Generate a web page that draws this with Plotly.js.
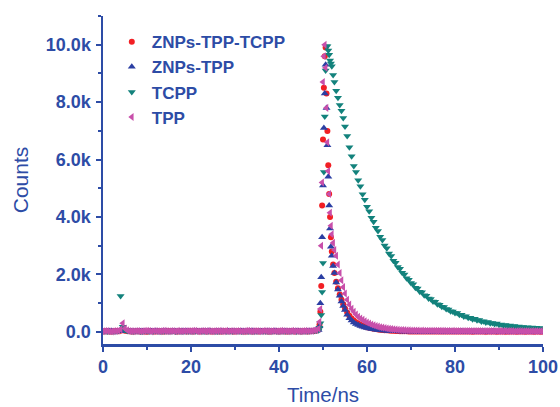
<!DOCTYPE html>
<html>
<head>
<meta charset="utf-8">
<script src="https://cdn.plot.ly/plotly-3.0.1.min.js"></script>
<style>html,body{margin:0;padding:0;background:#fff;}#chart{width:560px;height:407px;}</style>
</head>
<body>
<div id="chart"></div>
<script>
// Time channels (ns)
const timeNs = [
  0,0.5,1,1.5,2,2.5,3,3.5,4,4.5, 5,5.5,6,6.5,7,7.5,8,8.5,9,9.5,
  10,10.5,11,11.5,12,12.5,13,13.5,14,14.5, 15,15.5,16,16.5,17,17.5,18,18.5,19,19.5,
  20,20.5,21,21.5,22,22.5,23,23.5,24,24.5, 25,25.5,26,26.5,27,27.5,28,28.5,29,29.5,
  30,30.5,31,31.5,32,32.5,33,33.5,34,34.5, 35,35.5,36,36.5,37,37.5,38,38.5,39,39.5,
  40,40.5,41,41.5,42,42.5,43,43.5,44,44.5, 45,45.5,46,46.5,47,47.5,48,
  48.5,49,49.2,49.4,49.6,49.8,50,50.2,50.4,50.6,50.8,51,51.2,51.4,51.6,51.8,52,52.3,52.6,53,53.4,53.8,54.2,54.6,55,
  55.5,56,56.5,57,57.5,58,58.5,59,59.5,60, 60.5,61,61.5,62,62.5,63,63.5,64,64.5,65,
  65.5,66,66.5,67,67.5,68,68.5,69,69.5,70, 70.5,71,71.5,72,72.5,73,73.5,74,74.5,75,
  75.5,76,76.5,77,77.5,78,78.5,79,79.5,80, 80.5,81,81.5,82,82.5,83,83.5,84,84.5,85,
  85.5,86,86.5,87,87.5,88,88.5,89,89.5,90, 90.5,91,91.5,92,92.5,93,93.5,94,94.5,95,
  95.5,96,96.5,97,97.5,98,98.5,99,99.5,100
];

const countsZnpsTppTcpp = [
  18,22,25,15,12,28,30,20,40,110, 45,30,20,14,15,26,28,18,22,16,
  10,24,30,18,18,26,25,12,14,22, 20,28,32,16,16,22,24,30,12,20,
  28,14,20,26,15,22,30,18,22,16, 18,24,26,14,12,28,20,22,30,18,
  16,26,24,20,18,12,28,22,14,26, 22,16,30,24,20,14,16,28,26,20,
  12,22,24,16,18,28,30,14,20,26, 15,22,28,18,22,30,35,
  50,90,250,700,1600,4400,6700,8500,9600,9900,8300,7000,5800,4800,4000,3300,2800,2350,2050,1750,1520,1300,1120,960,820,
  680,560,470,400,340,290,250,215,190,165, 145,128,112,100,88,78,70,62,55,48,
  42,38,34,30,27,25,22,20,19,18, 16,18,14,17,15,13,16,14,12,15,
  13,15,12,14,11,13,15,12,14,11, 13,12,14,11,13,15,12,10,13,12,
  11,14,12,10,13,11,12,14,10,12, 13,11,10,12,14,11,13,10,12,11,
  12,10,13,11,12,10,11,13,10,12
];

const countsZnpsTpp = [
  10,18,22,26,30,14,15,24,35,90, 40,28,25,16,12,22,20,26,28,18,
  16,20,22,14,30,24,12,28,25,16, 18,22,26,12,14,28,30,20,20,16,
  12,24,28,18,18,30,24,14,30,22, 15,26,22,18,26,12,10,20,18,28,
  28,16,14,24,24,20,20,26,30,14, 12,22,26,18,18,30,22,16,30,24,
  16,20,22,28,14,26,28,18,20,24, 25,16,18,22,30,26,40,
  45,70,200,1000,1900,3300,5100,7100,8300,9300,7800,6500,5400,4400,3600,2970,2650,2300,2050,1720,1480,1260,1060,900,760,
  600,480,400,330,280,240,205,180,155,135, 118,102,90,78,68,60,52,46,40,35,
  30,26,22,20,18,16,15,14,12,12, 14,10,12,9,11,8,12,10,9,11,
  8,10,12,9,7,11,8,10,9,7, 10,8,11,7,9,12,8,10,7,9,
  11,8,9,7,10,8,12,9,7,10, 8,11,9,7,10,8,9,11,7,8,
  10,7,9,11,8,10,7,9,8,10
];

const countsTcpp = [
  20,26,15,22,28,18,22,40,1250,180, 70,34,30,20,18,24,25,16,14,30,
  28,18,20,26,32,14,16,28,24,20, 12,26,30,18,22,16,18,28,26,14,
  14,22,20,28,30,16,18,24,24,30, 28,14,12,20,22,30,16,24,24,18,
  30,22,20,16,26,28,14,20,24,18, 18,30,28,22,16,12,22,26,30,14,
  12,20,26,28,20,18,24,30,16,22, 18,24,22,28,28,32,45,
  50,60,150,300,590,1390,2400,5570,7500,9100,9950,9950,9800,9650,9450,9350,9250,8950,8700,8400,8150,7900,7700,7450,7150,
  6820,6430,6120,5780,5570,5280,5070,4790,4600,4360, 4200,3980,3840,3630,3510,3310,3200,3010,2910,2730,
  2640,2480,2410,2260,2200,2060,2000,1870,1820,1700, 1660,1540,1510,1400,1380,1280,1260,1160,1150,1060,
  1050,965,950,875,865,795,785,720,715,655, 655,595,595,540,545,490,495,445,455,405,
  415,365,375,330,345,300,315,275,290,250, 262,228,242,208,222,190,204,175,190,160,
  176,148,164,137,154,128,146,120,138,112
];

const countsTpp = [
  25,32,30,22,18,28,35,40,90,300, 120,55,35,28,22,34,30,26,28,36,
  40,30,20,34,32,24,26,36,38,28, 24,32,30,26,36,22,22,34,34,30,
  28,38,40,26,24,32,30,28,36,24, 22,30,32,36,28,24,38,26,32,30,
  26,34,30,24,22,36,38,28,28,32, 32,24,24,36,30,28,22,34,30,26,
  28,36,34,30,22,26,38,28,30,24, 26,34,36,30,32,38,60,
  70,110,350,800,3000,5200,8700,9600,10000,9200,7800,6600,5600,4800,4150,3700,3400,3100,2850,2650,2350,2050,1800,1560,1340,
  1120,950,810,700,610,530,470,420,370,330, 295,260,230,205,185,165,150,135,120,108,
  98,90,82,76,70,66,62,58,55,52, 50,47,48,44,45,42,43,40,41,39,
  40,37,38,36,37,35,36,34,36,33, 35,33,34,32,33,31,33,32,31,32,
  30,32,29,31,30,28,31,29,30,28, 29,27,30,28,27,29,26,28,27,29,
  26,28,27,25,27,26,28,25,27,26
];

const seriesNames = ['ZNPs-TPP-TCPP', 'ZNPs-TPP', 'TCPP', 'TPP'];
const yTickVals = [0, 2000, 4000, 6000, 8000, 10000];
const yTickText = ['0.0', '2.0k', '4.0k', '6.0k', '8.0k', '10.0k'];
const xTickVals = [0, 20, 40, 60, 80, 100];

const axisBlue = '#2D4CA6';
const fontFam = 'Liberation Sans, Arial, sans-serif';

const traces = [
  {x: timeNs, y: countsZnpsTppTcpp, name: seriesNames[0], type: 'scatter', mode: 'markers',
   marker: {symbol: 'circle', size: 6, color: '#F21F24'}},
  {x: timeNs, y: countsZnpsTpp, name: seriesNames[1], type: 'scatter', mode: 'markers',
   marker: {symbol: 'triangle-up', size: 7, color: '#2B3FA3'}},
  {x: timeNs, y: countsTcpp, name: seriesNames[2], type: 'scatter', mode: 'markers',
   marker: {symbol: 'triangle-down', size: 7, color: '#13827C'}},
  {x: timeNs, y: countsTpp, name: seriesNames[3], type: 'scatter', mode: 'markers',
   marker: {symbol: 'triangle-left', size: 7, color: '#C84FAA'}}
];

const layout = {
  width: 560, height: 407,
  margin: {l: 103, r: 17, t: 16, b: 63},
  paper_bgcolor: '#fff', plot_bgcolor: '#fff',
  showlegend: true,
  legend: {x: 0.02, y: 0.975, xanchor: 'left', yanchor: 'top', bgcolor: 'rgba(0,0,0,0)',
           font: {family: fontFam, size: 17, color: axisBlue, weight: 'bold'}, tracegroupgap: 0},
  xaxis: {
    range: [0, 100], showgrid: false, zeroline: false,
    showline: true, linecolor: axisBlue, linewidth: 2.5,
    ticks: 'outside', ticklen: 5, tickwidth: 2, tickcolor: axisBlue,
    tickvals: xTickVals,
    tickfont: {family: fontFam, size: 18, color: axisBlue, weight: 'bold'},
    minor: {ticks: 'outside', dtick: 10, ticklen: 3, tickwidth: 2, tickcolor: axisBlue},
    title: {text: 'Time/ns', font: {family: fontFam, size: 20.5, color: axisBlue}, standoff: 12}
  },
  yaxis: {
    range: [-420, 11000], showgrid: false, zeroline: false,
    showline: true, linecolor: axisBlue, linewidth: 2.5,
    ticks: 'outside', ticklen: 5, tickwidth: 2, tickcolor: axisBlue,
    tickvals: yTickVals, ticktext: yTickText, ticklabelstandoff: 1,
    tickfont: {family: fontFam, size: 18, color: axisBlue, weight: 'bold'},
    minor: {ticks: 'outside', dtick: 1000, ticklen: 3, tickwidth: 2, tickcolor: axisBlue},
    title: {text: 'Counts', font: {family: fontFam, size: 21, color: axisBlue}, standoff: 12}
  }
};

Plotly.newPlot('chart', traces, layout, {staticPlot: true, displayModeBar: false});
</script>
</body>
</html>
